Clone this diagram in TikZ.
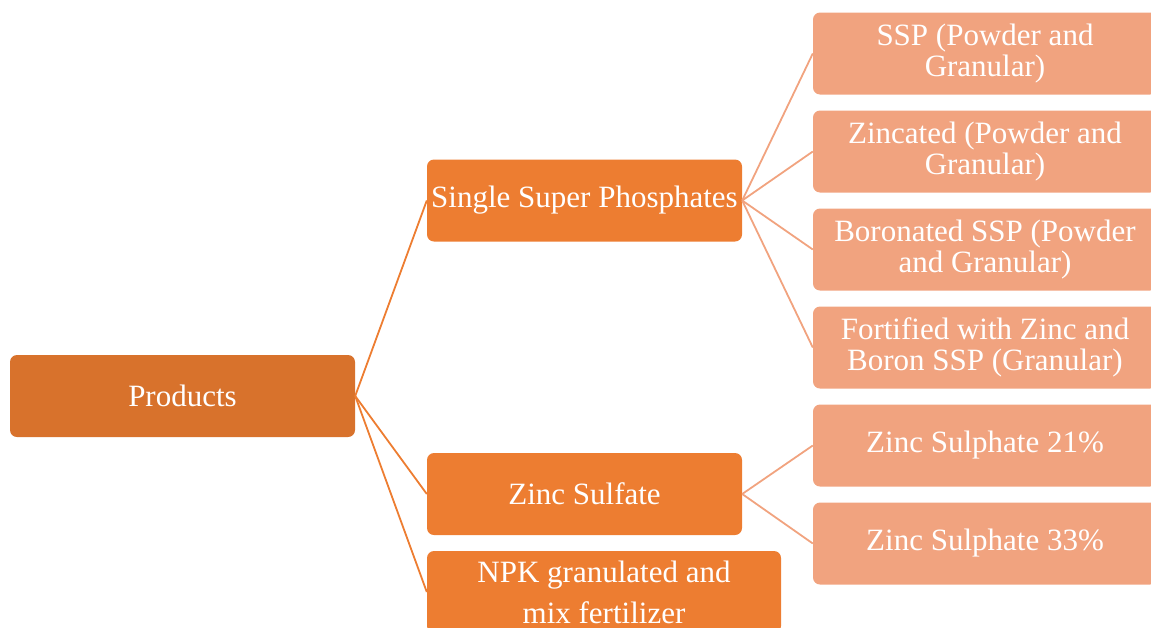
\documentclass[tikz,border=0pt]{standalone}
\usepackage{fontspec}
\setmainfont{Liberation Serif}
\definecolor{rootorange}{HTML}{D8722C}
\definecolor{midorange}{HTML}{ED7D31}
\definecolor{leaforange}{HTML}{F1A37F}
\tikzset{
	box/.style={rounded corners=7pt,inner sep=0pt,text=white,align=center,
		font=\fontsize{31}{31}\selectfont,minimum height=82pt},
	rootbox/.style={box,fill=rootorange,minimum width=345pt},
	midbox/.style={box,fill=midorange,minimum width=315pt},
	leafbox/.style={box,fill=leaforange,minimum width=344pt},
	midline/.style={draw=midorange,line width=1.8pt},
	leafline/.style={draw=leaforange,line width=1.8pt}
}
\begin{document}
\begin{tikzpicture}[x=1pt,y=-1pt]
	\clip (0,0) rectangle (1151,627);
	\node[rootbox] (prod) at (182.5,396) {Products};
	\node[midbox] (ssp) at (584.5,200.5) {Single Super Phosphates};
	\node[midbox] (zns) at (584.5,494) {Zinc Sulfate};
	\node[midbox,minimum width=354pt,font=\fontsize{31}{41}\selectfont] (npk) at (604,592) {NPK granulated and\\mix fertilizer};
	\foreach \n/\y/\t in {l1/53.5/{SSP (Powder and\\Granular)},
		l2/151.5/{Zincated (Powder and\\Granular)},
		l3/249.5/{Boronated SSP (Powder\\and Granular)},
		l4/347.5/{Fortified with Zinc and\\Boron SSP (Granular)},
		l5/445.5/{Zinc Sulphate 21\%},
		l6/543.5/{Zinc Sulphate 33\%}}{
	\node[leafbox] (\n) at (985,\y) {\t};
	}
	\foreach \m in {ssp,zns,npk}{
	\draw[midline] (prod.east) -- (\m.west);
	}
	\foreach \m in {l1,l2,l3,l4}{
	\draw[leafline] (ssp.east) -- (\m.west);
	}
	\foreach \m in {l5,l6}{
	\draw[leafline] (zns.east) -- (\m.west);
	}
\end{tikzpicture}
\end{document}
